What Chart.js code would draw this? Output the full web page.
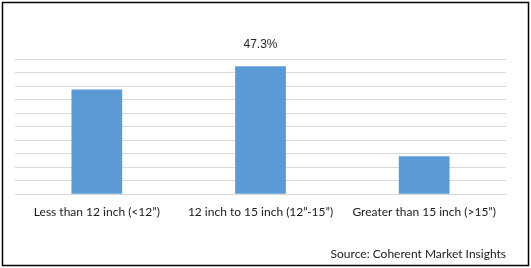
<!DOCTYPE html>
<html>
<head>
<meta charset="utf-8">
<script src="https://cdn.jsdelivr.net/npm/chart.js@4"></script>
<style>
  html, body { margin: 0; padding: 0; background: #fff; }
  #wrap { width: 531px; height: 268px; position: relative; }
</style>
</head>
<body>
<div id="wrap"><canvas id="grafik" width="531" height="268"></canvas></div>
<script>
const kategori = ['Less than 12 inch (<12\u201d)', '12 inch to 15 inch (12\u201d-15\u201d)', 'Greater than 15 inch (>15\u201d)'];
const nilai = [38.7, 47.3, 14.0];
const labelNilai = ['', '47.3%', ''];
const sumber = 'Source: Coherent Market Insights';

// bingkai hitam + latar putih
const bingkai = {
  id: 'bingkai',
  beforeDraw(chart) {
    const c = chart.ctx;
    c.save();
    c.fillStyle = '#fff';
    c.fillRect(0, 0, chart.width, chart.height);
    c.restore();
  },
  afterDraw(chart) {
    const c = chart.ctx;
    c.save();
    c.strokeStyle = '#000';
    c.lineWidth = 1.5;
    c.strokeRect(2.5, 2.5, 526, 263);
    c.restore();
  }
};

// label nilai di atas batang
const labelBatang = {
  id: 'labelBatang',
  afterDatasetsDraw(chart) {
    const c = chart.ctx;
    const meta = chart.getDatasetMeta(0);
    c.save();
    c.font = '12px "Liberation Sans", Arial, sans-serif';
    c.fillStyle = '#262626';
    c.textAlign = 'center';
    c.textBaseline = 'middle';
    meta.data.forEach((bar, i) => {
      if (!labelNilai[i]) return;
      c.fillText(labelNilai[i], bar.x, bar.y - 22);
    });
    c.restore();
  }
};

const ctx = document.getElementById('grafik').getContext('2d');

const chart = new Chart(ctx, {
  type: 'bar',
  data: {
    labels: kategori,
    datasets: [{
      data: nilai,
      backgroundColor: '#5b9bd5',
      barPercentage: 0.31,
      categoryPercentage: 1
    }]
  },
  options: {
    responsive: false,
    animation: false,
    layout: { padding: { left: 15, right: 25, top: 59, bottom: 4 } },
    plugins: {
      legend: { display: false },
      tooltip: { enabled: false },
      title: {
        display: true,
        text: sumber,
        position: 'bottom',
        align: 'end',
        color: '#1a1a1a',
        font: { family: 'Lato, "Open Sans", sans-serif', size: 12, weight: 'normal' },
        padding: { top: 16, bottom: 3 }
      }
    },
    scales: {
      x: {
        grid: { display: false, drawTicks: false },
        border: { display: true, color: '#d9d9d9', width: 1 },
        ticks: {
          color: '#1a1a1a',
          padding: 11,
          maxRotation: 0,
          autoSkip: false,
          font: { family: 'Lato, "Open Sans", sans-serif', size: 12 }
        }
      },
      y: {
        min: 0,
        max: 50,
        ticks: { display: false, stepSize: 5 },
        grid: { color: '#d9d9d9', drawTicks: false },
        border: { display: false }
      }
    }
  },
  plugins: [bingkai, labelBatang]
});
</script>
</body>
</html>
